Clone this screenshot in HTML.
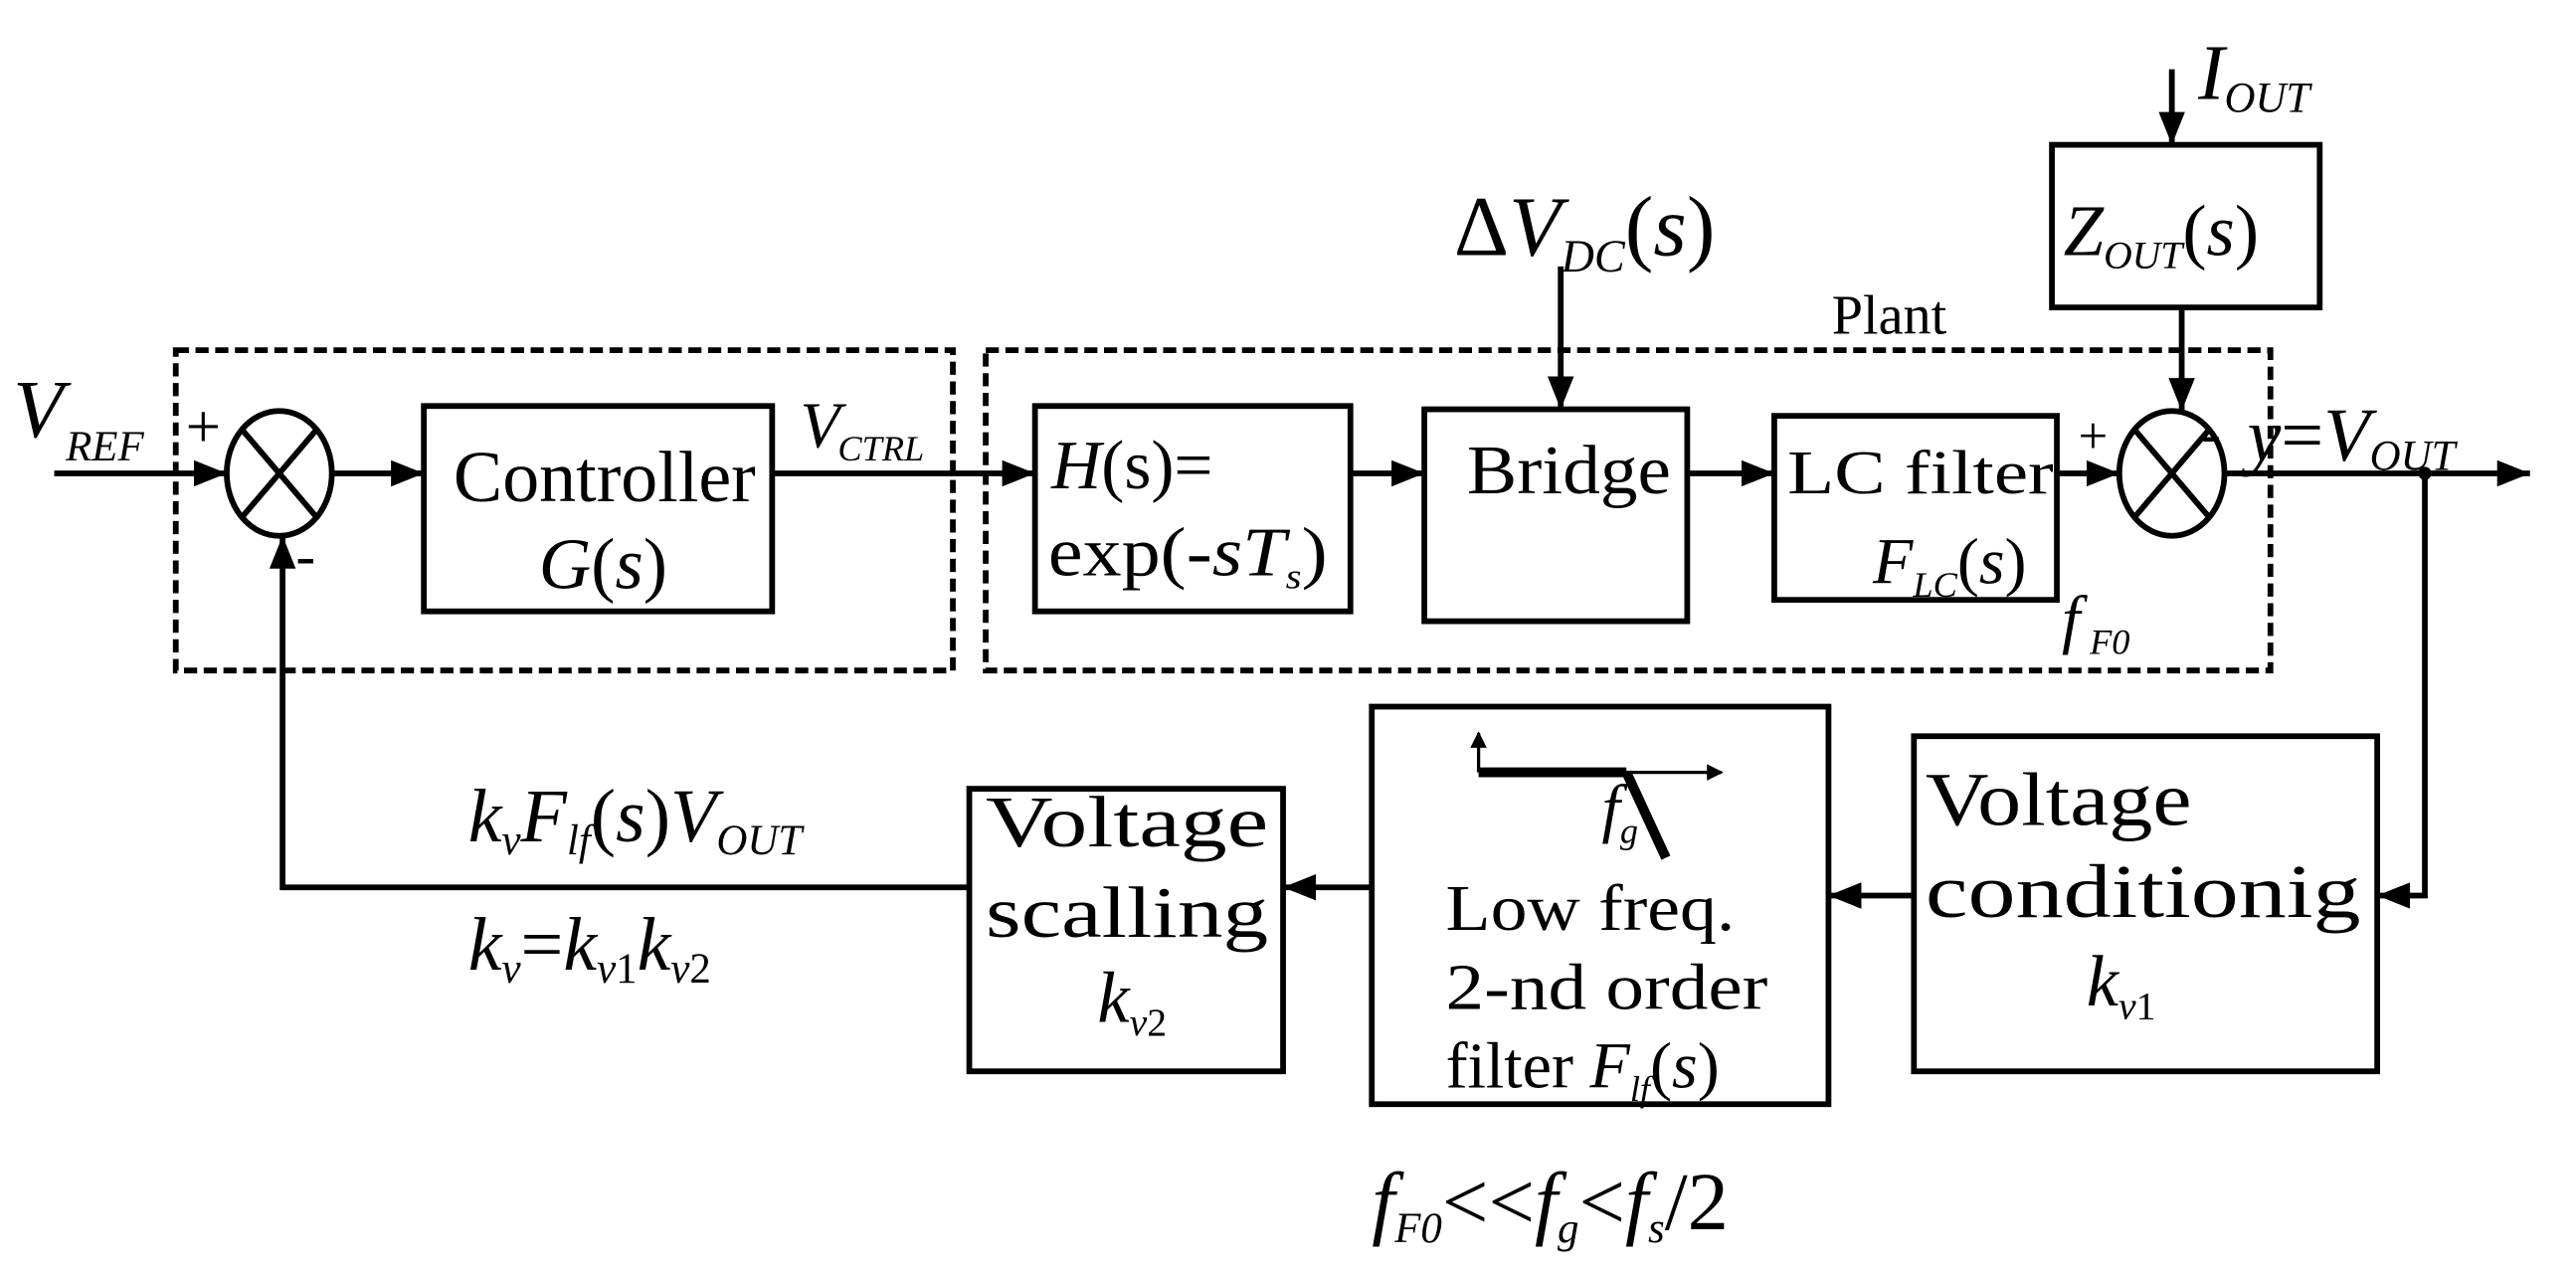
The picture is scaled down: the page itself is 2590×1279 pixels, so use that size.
<!DOCTYPE html>
<html><head><meta charset="utf-8"><style>html,body{margin:0;padding:0;background:#fff}svg{display:block}text{font-family:"Liberation Serif",serif;fill:#000}</style></head><body>
<svg width="2590" height="1279" viewBox="0 0 1568 774" xmlns="http://www.w3.org/2000/svg">
<defs><marker id="a" markerWidth="10" markerHeight="10" refX="9" refY="5" orient="auto" markerUnits="userSpaceOnUse" viewBox="0 0 10 10"><path d="M0,0 L10,5 L0,10 z" fill="#000"/></marker>
<marker id="A" markerWidth="20" markerHeight="20" refX="20" refY="10" orient="auto" markerUnits="userSpaceOnUse" viewBox="0 0 20 20"><path d="M0,2 L20,10 L0,18 z" fill="#000"/></marker></defs>
<g fill="none" stroke="#000">
<rect x="107" y="213" width="473" height="195" stroke-width="3.5" stroke-dasharray="8,4"/>
<rect x="600" y="213" width="782" height="195" stroke-width="3.5" stroke-dasharray="8,4"/>
<g stroke-width="3.5">
<rect x="258" y="247" width="212" height="125"/>
<rect x="630" y="247" width="192" height="125"/>
<rect x="867" y="249" width="160" height="129"/>
<rect x="1080" y="253" width="172" height="112"/>
<rect x="1249" y="88" width="163" height="99"/>
<rect x="1165" y="448" width="282" height="204"/>
<rect x="835" y="430" width="278" height="242"/>
<rect x="590" y="480" width="191" height="172"/>
<ellipse cx="170" cy="288" rx="32" ry="38"/>
<path d="M147,261 L193,315 M193,261 L147,315"/>
<ellipse cx="1322" cy="288" rx="32" ry="38"/>
<path d="M1299,261 L1345,315 M1345,261 L1299,315"/>
<path d="M33,288 H138" marker-end="url(#A)"/>
<path d="M202,288 H258" marker-end="url(#A)"/>
<path d="M470,288 H630" marker-end="url(#A)"/>
<path d="M822,288 H867" marker-end="url(#A)"/>
<path d="M1027,288 H1080" marker-end="url(#A)"/>
<path d="M1252,288 H1290" marker-end="url(#A)"/>
<path d="M1354,288 H1540" marker-end="url(#A)"/>
<path d="M1476,288 V545 H1447" marker-end="url(#A)"/>
<path d="M1165,545 H1113" marker-end="url(#A)"/>
<path d="M835,540 H781" marker-end="url(#A)"/>
<path d="M590,540 H172 V326" marker-end="url(#A)"/>
<path d="M1322,42 V88" marker-end="url(#A)"/>
<path d="M1328,187 V250" marker-end="url(#A)"/>
<path d="M950,162 V249" marker-end="url(#A)"/>
</g>
<path d="M900,470 V446" stroke-width="2" marker-end="url(#a)"/>
<path d="M900,470 H990" stroke-width="6"/>
<path d="M990,470 H1048" stroke-width="2" marker-end="url(#a)"/>
<path d="M990,470 L1014,522" stroke-width="6"/>
</g>
<circle cx="1476" cy="288" r="4" fill="#000"/>
<text x="8" y="266" font-size="50" font-style="italic">V</text><text x="40" y="280" font-size="26" font-style="italic">REF</text>
<text x="113" y="272" font-size="38">+</text><text x="180" y="350" font-size="36">-</text>
<text x="276" y="305" font-size="44" textLength="184" lengthAdjust="spacingAndGlyphs">Controller</text>
<text x="328" y="358" font-size="44"><tspan font-style="italic">G</tspan>(<tspan font-style="italic">s</tspan>)</text>
<text x="487" y="272" font-size="40" font-style="italic">V</text><text x="510" y="280" font-size="22" font-style="italic">CTRL</text>
<text x="640" y="297" font-size="42"><tspan font-style="italic">H</tspan>(s)=</text>
<text x="638" y="350" font-size="42" textLength="170" lengthAdjust="spacingAndGlyphs">exp(-<tspan font-style="italic">sT</tspan><tspan font-size="22" font-style="italic" dy="8">s</tspan><tspan dy="-8">)</tspan></text>
<text x="893" y="300" font-size="42" textLength="124" lengthAdjust="spacingAndGlyphs">Bridge</text>
<text x="1088" y="300" font-size="38" textLength="162" lengthAdjust="spacingAndGlyphs">LC filter</text>
<text x="1140" y="355" font-size="40"><tspan font-style="italic">F</tspan><tspan font-size="22" font-style="italic" dy="8">LC</tspan><tspan dy="-8">(</tspan><tspan font-style="italic">s</tspan>)</text>
<text x="1265" y="276" font-size="32">+</text><text x="1340" y="276" font-size="36">-</text>
<text x="1255" y="390" font-size="40" font-style="italic">f</text><text x="1272" y="398" font-size="22" font-style="italic">F0</text>
<text x="1368" y="280" font-size="46" font-style="italic">y<tspan font-style="normal">=</tspan>V<tspan font-size="26" dy="6">OUT</tspan></text>
<text x="885" y="155" font-size="52">Δ<tspan font-style="italic">V</tspan><tspan font-size="28" font-style="italic" dy="10">DC</tspan><tspan dy="-10">(</tspan><tspan font-style="italic">s</tspan>)</text>
<text x="1115" y="203" font-size="34">Plant</text>
<text x="1338" y="60" font-size="48" font-style="italic">I<tspan font-size="26" dy="8">OUT</tspan></text>
<text x="1256" y="155" font-size="44"><tspan font-style="italic">Z</tspan><tspan font-size="24" font-style="italic" dy="8">OUT</tspan><tspan dy="-8">(</tspan><tspan font-style="italic">s</tspan>)</text>
<text x="285" y="512" font-size="46"><tspan font-style="italic">k</tspan><tspan font-size="26" font-style="italic" dy="8">v</tspan><tspan font-style="italic" dy="-8">F</tspan><tspan font-size="26" font-style="italic" dy="8">lf</tspan><tspan dy="-8">(</tspan><tspan font-style="italic">s</tspan>)<tspan font-style="italic">V</tspan><tspan font-size="26" font-style="italic" dy="8">OUT</tspan></text>
<text x="285" y="590" font-size="46"><tspan font-style="italic">k</tspan><tspan font-size="26" font-style="italic" dy="8">v</tspan><tspan dy="-8">=</tspan><tspan font-style="italic">k</tspan><tspan font-size="26" font-style="italic" dy="8">v</tspan><tspan font-size="26" dy="0">1</tspan><tspan font-style="italic" dy="-8">k</tspan><tspan font-size="26" font-style="italic" dy="8">v</tspan><tspan font-size="26">2</tspan></text>
<text x="600" y="515" font-size="44" textLength="172" lengthAdjust="spacingAndGlyphs">Voltage</text>
<text x="600" y="570" font-size="44" textLength="172" lengthAdjust="spacingAndGlyphs">scalling</text>
<text x="668" y="622" font-size="44" font-style="italic">k<tspan font-size="24" dy="8">v</tspan><tspan font-size="24" font-style="normal">2</tspan></text>
<text x="975" y="505" font-size="40" font-style="italic">f<tspan font-size="22" dy="8">g</tspan></text>
<text x="880" y="566" font-size="40" textLength="176" lengthAdjust="spacingAndGlyphs">Low freq.</text>
<text x="880" y="614" font-size="40" textLength="196" lengthAdjust="spacingAndGlyphs">2-nd order</text>
<text x="880" y="662" font-size="40">filter <tspan font-style="italic">F</tspan><tspan font-size="22" font-style="italic" dy="8">lf</tspan><tspan dy="-8">(</tspan><tspan font-style="italic">s</tspan>)</text>
<text x="1172" y="502" font-size="46" textLength="162" lengthAdjust="spacingAndGlyphs">Voltage</text>
<text x="1172" y="558" font-size="46" textLength="265" lengthAdjust="spacingAndGlyphs">conditionig</text>
<text x="1270" y="612" font-size="44" font-style="italic">k<tspan font-size="24" dy="8">v</tspan><tspan font-size="24" font-style="normal">1</tspan></text>
<text x="835" y="748" font-size="50"><tspan font-style="italic">f</tspan><tspan font-size="26" font-style="italic" dy="8">F0</tspan><tspan dy="-8">&lt;&lt;</tspan><tspan font-style="italic">f</tspan><tspan font-size="26" font-style="italic" dy="8">g</tspan><tspan dy="-8">&lt;</tspan><tspan font-style="italic">f</tspan><tspan font-size="26" font-style="italic" dy="8">s</tspan><tspan dy="-8">/2</tspan></text>
</svg>
</body></html>
